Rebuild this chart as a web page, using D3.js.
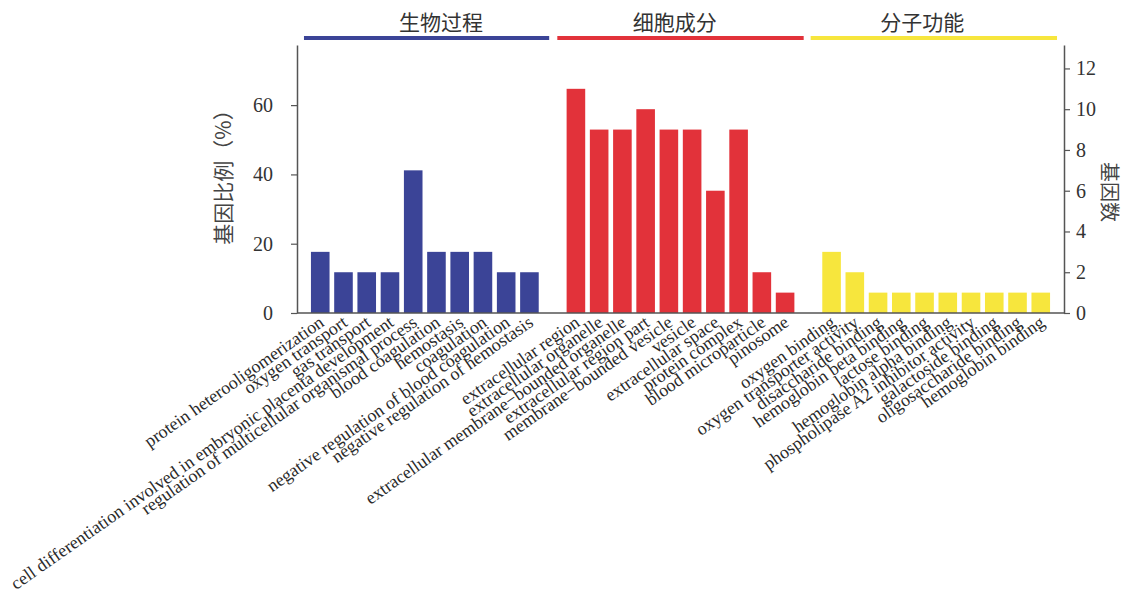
<!DOCTYPE html>
<html><head><meta charset="utf-8">
<script src="https://cdn.jsdelivr.net/npm/d3@7"></script>
<style>body{margin:0;background:#fff}svg{display:block}</style>
</head><body><svg id="c" width="1126" height="600"></svg>
<script>
const groups = ["生物过程", "细胞成分", "分子功能"];
const groupColors = ["#3b4497", "#e2323a", "#f7e63d"];
const bpTerms = ["protein heterooligomerization","oxygen transport","gas transport","cell differentiation involved in embryonic placenta development","regulation of multicellular organismal process","blood coagulation","hemostasis","coagulation","negative regulation of blood coagulation","negative regulation of hemostasis"];
const bpCounts = [3,2,2,2,7,3,3,3,2,2];
const ccTerms = ["extracellular region","extracellular organelle","extracellular membrane−bounded organelle","extracellular region part","membrane−bounded vesicle","vesicle","extracellular space","protein complex","blood microparticle","pinosome"];
const ccCounts = [11,9,9,10,9,9,6,9,2,1];
const mfTerms = ["oxygen binding","oxygen transporter activity","disaccharide binding","hemoglobin beta binding","lactose binding","hemoglobin alpha binding","phospholipase A2 inhibitor activity","galactoside binding","oligosaccharide binding","hemoglobin binding"];
const mfCounts = [3,2,1,1,1,1,1,1,1,1];
const totalGenes = 17;
const leftTicks = [0,20,40,60];
const rightTicks = [0,2,4,6,8,10,12];
const leftTitle = "基因比例（%）";
const rightTitle = "基因数";

const svg = d3.select("#c");
const serif = "'Liberation Serif','DejaVu Serif',serif";
const cjk = "'Noto Sans CJK SC','Liberation Serif',serif";
const L = 297, R = 1064, T = 45, B = 313;
const rMax = 13.15;

const terms = [bpTerms, ccTerms, mfTerms];
const counts = [bpCounts, ccCounts, mfCounts];
const data = [];
terms.forEach((ts, g) => ts.forEach((t, i) => data.push({term: t, count: counts[g][i], group: g, slot: g * 11 + i + 1})));

const x = d3.scaleLinear().domain([0, 33]).range([L, R]);
const yR = d3.scaleLinear().domain([0, rMax]).range([B, T]);
const yL = d3.scaleLinear().domain([0, rMax * 100 / totalGenes]).range([B, T]);
const bw = (x(1) - x(0)) * 0.8;

svg.selectAll("rect.bar").data(data).join("rect")
  .attr("x", d => x(d.slot) - bw / 2).attr("width", bw)
  .attr("y", d => yR(d.count)).attr("height", d => B - yR(d.count))
  .attr("fill", d => groupColors[d.group]);

// axes
const axCol = "#555";
const gl = svg.append("g").attr("transform", `translate(${L},0)`)
  .call(d3.axisLeft(yL).tickValues(leftTicks).tickSize(6).tickSizeOuter(0).tickPadding(18));
const gr = svg.append("g").attr("transform", `translate(${R},0)`)
  .call(d3.axisRight(yR).tickValues(rightTicks).tickSize(6).tickSizeOuter(0).tickPadding(6));
[gl, gr].forEach(g => {
  g.select(".domain").attr("stroke", axCol).attr("stroke-width", 1.5);
  g.selectAll(".tick line").attr("stroke", axCol).attr("stroke-width", 1.2);
  g.selectAll(".tick text").attr("font-family", serif).attr("font-size", 20).attr("fill", "#333");
});
svg.append("line").attr("x1", L).attr("x2", R).attr("y1", B).attr("y2", B)
  .attr("stroke", axCol).attr("stroke-width", 1.5);

// x labels
svg.append("g").selectAll("text").data(data).join("text")
  .attr("transform", d => `translate(${x(d.slot) + 5},${B + 12}) rotate(-35)`)
  .attr("text-anchor", "end")
  .attr("font-family", serif).attr("font-size", 18).attr("fill", "#2a2a2a")
  .text(d => d.term);

// group bars & titles
const gRanges = [[0.3, 10.85], [11.2, 21.8], [22.1, 32.7]];
const titleSlots = [6.2, 16.25, 26.9];
groups.forEach((g, i) => {
  svg.append("line").attr("x1", x(gRanges[i][0])).attr("x2", x(gRanges[i][1]))
    .attr("y1", 38).attr("y2", 38).attr("stroke", groupColors[i]).attr("stroke-width", 4);
  svg.append("text").attr("x", x(titleSlots[i])).attr("y", 30)
    .attr("text-anchor", "middle").attr("font-family", cjk).attr("font-size", 21).attr("fill", "#333").text(g);
});

// axis titles
svg.append("text").attr("transform", `translate(231,172) rotate(-90)`)
  .attr("text-anchor", "middle").attr("font-family", cjk).attr("font-size", 21).attr("fill", "#444").text(leftTitle);
svg.append("text").attr("transform", `translate(1102,192) rotate(90)`)
  .attr("text-anchor", "middle").attr("font-family", cjk).attr("font-size", 20).attr("fill", "#444").text(rightTitle);
</script></body></html>
